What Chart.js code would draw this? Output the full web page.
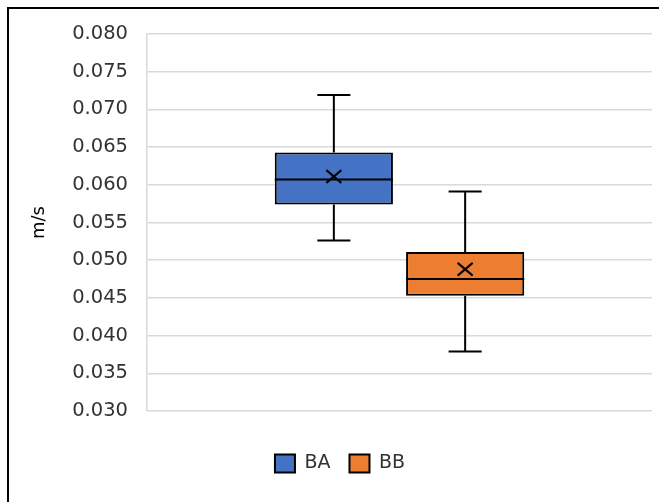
<!DOCTYPE html>
<html>
<head>
<meta charset="utf-8">
<script src="https://cdn.jsdelivr.net/npm/chart.js@4.4.0/dist/chart.umd.min.js"></script>
<style>
  html, body { margin: 0; padding: 0; background: #fff; }
  #wrap { position: relative; width: 659px; height: 502px; }
  #frame {
    position: absolute; left: 7px; top: 7px; right: 0; bottom: 0;
    border-left: 2px solid #000; border-top: 2px solid #000;
    pointer-events: none;
  }
</style>
</head>
<body>
<div id="wrap">
  <canvas id="chart" width="659" height="502"></canvas>
  <div id="frame"></div>
</div>
<script>
// box plot statistics
const seriesNames = ["BA", "BB"];
const minVals = [0.0526, 0.0379];
const q1Vals = [0.0574, 0.0453];
const medianVals = [0.0607, 0.0475];
const q3Vals = [0.0643, 0.0511];
const maxVals = [0.0719, 0.0591];
const meanVals = [0.0611, 0.0488];
const fillColors = ["#4472C4", "#ED7D31"];

const yMin = 0.030;
const yMax = 0.080;
const yStep = 0.005;

// whiskers, median lines and mean markers on top of the floating bars
const boxPlotExtras = {
    id: "boxPlotExtras",
    afterDatasetsDraw(chart) {
        const ctx = chart.ctx;
        const y = chart.scales.y;
        chart.data.datasets.forEach((ds, i) => {
            const bar = chart.getDatasetMeta(i).data[0];
            const cx = bar.x;
            const half = bar.width / 2;
            const cap = bar.width * 0.14;
            const pMin = y.getPixelForValue(minVals[i]);
            const pQ1 = y.getPixelForValue(q1Vals[i]);
            const pMed = y.getPixelForValue(medianVals[i]);
            const pQ3 = y.getPixelForValue(q3Vals[i]);
            const pMax = y.getPixelForValue(maxVals[i]);
            const pMean = y.getPixelForValue(meanVals[i]);

            ctx.save();
            ctx.strokeStyle = "#000";
            ctx.lineWidth = 2;
            ctx.beginPath();
            ctx.moveTo(cx, pQ3); ctx.lineTo(cx, pMax);
            ctx.moveTo(cx - cap, pMax); ctx.lineTo(cx + cap, pMax);
            ctx.moveTo(cx, pQ1); ctx.lineTo(cx, pMin);
            ctx.moveTo(cx - cap, pMin); ctx.lineTo(cx + cap, pMin);
            ctx.moveTo(cx - half, pMed); ctx.lineTo(cx + half, pMed);
            ctx.stroke();

            const s = 7.5;
            ctx.beginPath();
            ctx.moveTo(cx - s, pMean - s * 0.85); ctx.lineTo(cx + s, pMean + s * 0.85);
            ctx.moveTo(cx - s, pMean + s * 0.85); ctx.lineTo(cx + s, pMean - s * 0.85);
            ctx.stroke();
            ctx.restore();
        });
    }
};

const datasets = seriesNames.map((name, i) => ({
    label: name,
    data: [[q1Vals[i], q3Vals[i]]],
    backgroundColor: fillColors[i],
    borderColor: "#000",
    borderWidth: 2,
    borderSkipped: false
}));

new Chart(document.getElementById("chart"), {
    type: "bar",
    data: { labels: [""], datasets: datasets },
    options: {
        responsive: false,
        animation: false,
        devicePixelRatio: 1,
        categoryPercentage: 0.52,
        barPercentage: 0.9,
        layout: { padding: { top: 34, left: 28, right: 7, bottom: 19 } },
        plugins: {
            tooltip: { enabled: false },
            legend: {
                position: "bottom",
                labels: {
                    boxWidth: 20,
                    boxHeight: 18,
                    padding: 19,
                    color: "#333",
                    font: { family: "DejaVu Sans", size: 19 }
                }
            }
        },
        scales: {
            x: {
                grid: { display: false },
                border: { display: false },
                ticks: { display: false },
                afterFit(axis) { axis.height = 24; }
            },
            y: {
                min: yMin,
                max: yMax,
                grid: { color: "#d9d9d9", lineWidth: 1.5, drawTicks: false },
                border: { display: true, color: "#d9d9d9", width: 1.5 },
                ticks: {
                    stepSize: yStep,
                    padding: 19,
                    color: "#333",
                    font: { family: "DejaVu Sans", size: 19.5 },
                    callback: (v) => v.toFixed(3)
                },
                title: {
                    display: true,
                    text: "m/s",
                    color: "#000",
                    padding: { top: 1, bottom: 0 },
                    font: { family: "DejaVu Sans", size: 18 }
                },
                afterFit(axis) { axis.width = 119; }
            }
        }
    },
    plugins: [boxPlotExtras]
});
</script>
</body>
</html>
